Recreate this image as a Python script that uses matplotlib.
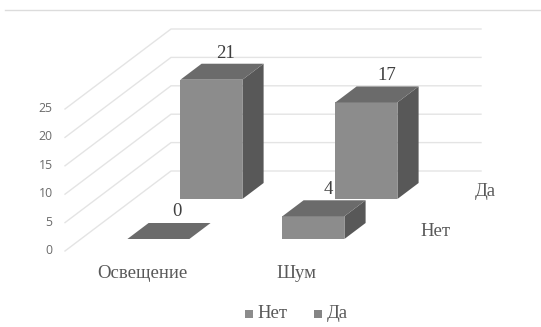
import matplotlib
matplotlib.use("Agg")
import matplotlib.pyplot as plt

categories = ["Освещение", "Шум"]
series = ["Нет", "Да"]
no_values = [0, 4]
yes_values = [21, 17]
y_ticks = [0, 5, 10, 15, 20, 25]

# pixel layout of the oblique box
X0, Y0 = 65, 251
UNIT = 5.68
CAT_W = 155
ROW_DX, ROW_DY = 53, -40
BAR_W = 62
GAP = 46.5
BAR_START = 0.3
BAR_DEPTH = 0.4

FRONT = "#8c8c8c"
TOP = "#6b6b6b"
SIDE = "#585858"
GRID = "#e4e4e4"
SERIF = "Liberation Serif"


def proj(cat, row, val):
    # cat along the floor in categories, row into the depth, val upwards
    return (X0 + cat * CAT_W + row * ROW_DX, Y0 + row * ROW_DY - val * UNIT)


def bar3d(ax, i, row, val):
    a = i + GAP / CAT_W
    b = a + BAR_W / CAT_W
    r0 = row + BAR_START
    r1 = r0 + BAR_DEPTH
    if val > 0:
        ax.fill(*zip(proj(a, r0, 0), proj(b, r0, 0), proj(b, r0, val), proj(a, r0, val)),
                color=FRONT, lw=0, zorder=3 + row)
        ax.fill(*zip(proj(b, r0, 0), proj(b, r1, 0), proj(b, r1, val), proj(b, r0, val)),
                color=SIDE, lw=0, zorder=3 + row)
    ax.fill(*zip(proj(a, r0, val), proj(b, r0, val), proj(b, r1, val), proj(a, r1, val)),
            color=TOP, lw=0, zorder=3 + row)


fig = plt.figure(figsize=(5.41, 3.27), dpi=100)
ax = fig.add_axes([0, 0, 1, 1])
ax.set_xlim(0, 541)
ax.set_ylim(327, 0)
ax.axis("off")

# chart border, only the top edge shows
ax.plot([5, 541], [9.5, 9.5], color="#dcdcdc", lw=1.0, zorder=1)

for t in y_ticks:
    xa, ya = proj(0, 0, t)
    xb, yb = proj(0, 2, t)
    xc, yc = proj(2, 2, t)
    ax.plot([xa, xb, xc], [ya, yb, yc], color=GRID, lw=1.0, zorder=1, solid_joinstyle="miter")
    ax.text(52.5, ya - 0.5, str(t), ha="right", va="center", fontsize=8.8,
            family="Open Sans", color="#6a6a6a")

# back row first so the front row overlaps it
for i, v in enumerate(yes_values):
    bar3d(ax, i, 1, v)
for i, v in enumerate(no_values):
    bar3d(ax, i, 0, v)

label_kw = dict(family=SERIF, fontsize=13.5, color="#404040", ha="center", va="center", zorder=6)
ax.text(225.5, 53, str(yes_values[0]), **label_kw)
ax.text(386.5, 75, str(yes_values[1]), **label_kw)
ax.text(177, 211, str(no_values[0]), **label_kw)
ax.text(328, 189, str(no_values[1]), **label_kw)

name_kw = dict(family=SERIF, fontsize=13.5, color="#595959", va="center")
ax.text(142, 273, categories[0], ha="center", **name_kw)
ax.text(296.5, 273, categories[1], ha="center", **name_kw)
ax.text(435.5, 232, series[0], ha="center", **name_kw)
ax.text(485, 192, series[1], ha="center", **name_kw)

# legend
ax.fill([245, 253, 253, 245], [310, 310, 318, 318], color=FRONT, lw=0)
ax.text(257, 314, series[0], ha="left", **name_kw)
ax.fill([314, 322, 322, 314], [310, 310, 318, 318], color="#858585", lw=0)
ax.text(327, 314, series[1], ha="left", **name_kw)

fig.savefig("out.png", dpi=100)
